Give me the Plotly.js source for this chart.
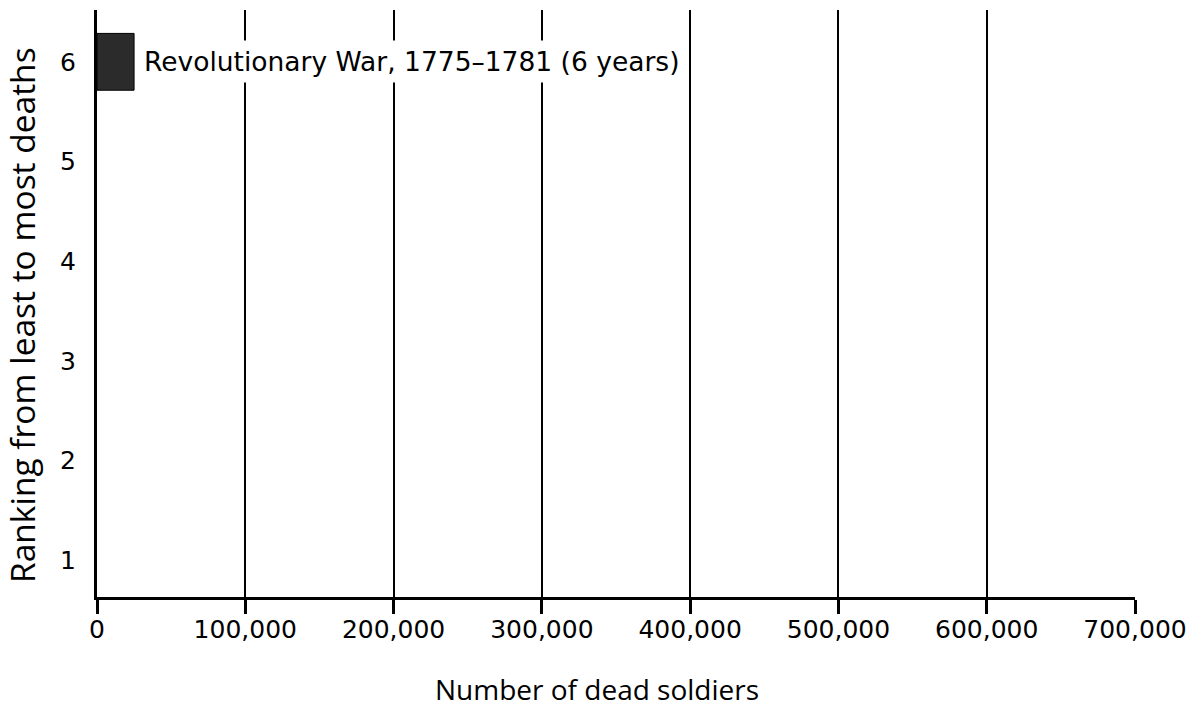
<!DOCTYPE html>
<html>
<head>
<meta charset="utf-8">
<script src="https://cdn.plot.ly/plotly-3.0.1.min.js"></script>
<style>html,body{margin:0;padding:0;background:#fff;}#chart{width:1195px;height:709px;}</style>
</head>
<body>
<div id="chart"></div>
<script>
var wars = ["Revolutionary War, 1775–1781 (6 years)"];
var ranks = [6];
var deaths = [25000];
var xTickVals = [0, 100000, 200000, 300000, 400000, 500000, 600000, 700000];
var xTickText = ["0", "100,000", "200,000", "300,000", "400,000", "500,000", "600,000", "700,000"];
var yTickVals = [1, 2, 3, 4, 5, 6];
var xTitle = "Number of dead soldiers";
var yTitle = "Ranking from least to most deaths";

var trace = {
  type: "bar",
  orientation: "h",
  x: deaths,
  y: ranks,
  width: 0.57,
  marker: {color: "#2b2b2b", line: {color: "#000", width: 1}},
  hoverinfo: "skip"
};

var annotations = wars.map(function(w, i) {
  return {
    x: deaths[i], y: ranks[i], xref: "x", yref: "y",
    text: w, showarrow: false, xanchor: "left", yanchor: "middle",
    xshift: 4, bgcolor: "#fff", borderpad: 5,
    font: {family: "DejaVu Sans", size: 26.5, color: "#000"}
  };
});
annotations.push({
  x: 0.482, y: -0.156, xref: "paper", yref: "paper",
  text: xTitle, showarrow: false, xanchor: "center", yanchor: "middle",
  font: {family: "Open Sans", size: 28, color: "#000"}
});
annotations.push({
  x: -0.0725, y: 0.48, xref: "paper", yref: "paper",
  text: yTitle, showarrow: false, xanchor: "center", yanchor: "middle", textangle: -90,
  font: {family: "Open Sans", size: 33.5, color: "#000"}
});

var layout = {
  width: 1195, height: 709,
  margin: {l: 97, r: 60, t: 10, b: 112},
  paper_bgcolor: "#fff", plot_bgcolor: "#fff",
  showlegend: false,
  font: {family: "Open Sans", color: "#000"},
  xaxis: {
    range: [0, 700000],
    tickvals: xTickVals, ticktext: xTickText,
    showgrid: true, gridcolor: "#000", gridwidth: 2,
    showline: true, linecolor: "#000", linewidth: 3,
    ticks: "outside", ticklen: 14, tickwidth: 3, tickcolor: "#000",
    ticklabelstandoff: -6,
    tickfont: {family: "DejaVu Sans", size: 25, color: "#000"},
    zeroline: false
  },
  yaxis: {
    range: [0.63, 6.52],
    tickvals: yTickVals,
    showgrid: false,
    showline: true, linecolor: "#000", linewidth: 3,
    ticks: "", ticklabelstandoff: 13,
    tickfont: {family: "DejaVu Sans", size: 25, color: "#000"},
    zeroline: false
  },
  annotations: annotations
};

Plotly.newPlot("chart", [trace], layout, {displayModeBar: false, staticPlot: true});
</script>
</body>
</html>
